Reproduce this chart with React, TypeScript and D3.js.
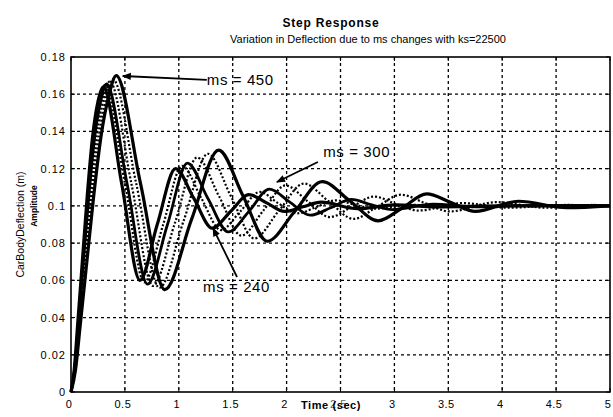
import React from "react";
import * as d3 from "d3";

// Step responses of car body deflection for several sprung masses (ks = 22500)
const timeTicks = [0, 0.5, 1, 1.5, 2, 2.5, 3, 3.5, 4, 4.5, 5];
const timeTickLabels = ["0", "0.5", "1", "1.5", "2", "2.5", "3", "3.5", "4", "4.5", "5"];
const ampTicks = [0, 0.02, 0.04, 0.06, 0.08, 0.1, 0.12, 0.14, 0.16, 0.18];
const ampTickLabels = ["0", "0.02", "0.04", "0.06", "0.08", "0.1", "0.12", "0.14", "0.16", "0.18"];

const ms240: [number, number][] = [
  [0, 0], [0.03, 0.012], [0.06, 0.035], [0.1, 0.066], [0.15, 0.105], [0.2, 0.137], [0.25, 0.156],
  [0.3, 0.164], [0.47, 0.112], [0.64, 0.06], [0.8, 0.09], [0.97, 0.12], [1.14, 0.104], [1.31, 0.088],
  [1.48, 0.097], [1.65, 0.106], [1.82, 0.1015], [1.98, 0.097], [2.15, 0.0995], [2.32, 0.102],
  [2.66, 0.0985], [3.0, 0.1005], [3.4, 0.0995], [4.0, 0.1], [5.0, 0.1],
];
const ms270: [number, number][] = [
  [0, 0], [0.032, 0.012], [0.063, 0.035], [0.105, 0.066], [0.158, 0.105], [0.21, 0.137], [0.263, 0.156],
  [0.315, 0.165], [0.5, 0.112], [0.68, 0.059], [0.855, 0.09], [1.03, 0.1215], [1.21, 0.104], [1.39, 0.087],
  [1.57, 0.097], [1.75, 0.1075], [1.92, 0.1015], [2.1, 0.096], [2.28, 0.0995], [2.46, 0.103],
  [2.64, 0.1005], [2.82, 0.0985], [3.18, 0.1005], [3.6, 0.0997], [4.2, 0.1], [5.0, 0.1],
];
const ms300: [number, number][] = [
  [0, 0], [0.033, 0.012], [0.066, 0.035], [0.11, 0.066], [0.165, 0.105], [0.22, 0.137], [0.275, 0.156],
  [0.33, 0.1655], [0.52, 0.112], [0.71, 0.058], [0.895, 0.09], [1.08, 0.123], [1.27, 0.104], [1.46, 0.086],
  [1.65, 0.097], [1.84, 0.109], [2.03, 0.102], [2.22, 0.095], [2.41, 0.099], [2.6, 0.1035],
  [2.79, 0.1005], [2.98, 0.098], [3.36, 0.101], [3.75, 0.0995], [4.3, 0.1003], [5.0, 0.1],
];
const ms350: [number, number][] = [
  [0, 0], [0.036, 0.012], [0.072, 0.035], [0.12, 0.066], [0.18, 0.105], [0.24, 0.138], [0.3, 0.157],
  [0.36, 0.167], [0.56, 0.112], [0.76, 0.057], [0.965, 0.091], [1.17, 0.126], [1.375, 0.105], [1.58, 0.084],
  [1.785, 0.0975], [1.99, 0.111], [2.195, 0.1025], [2.4, 0.094], [2.605, 0.0995], [2.81, 0.105],
  [3.015, 0.101], [3.22, 0.0975], [3.63, 0.1015], [4.04, 0.099], [4.6, 0.1005], [5.0, 0.1],
];
const ms400: [number, number][] = [
  [0, 0], [0.039, 0.012], [0.078, 0.035], [0.13, 0.066], [0.195, 0.105], [0.26, 0.138], [0.325, 0.158],
  [0.39, 0.168], [0.605, 0.112], [0.82, 0.056], [1.045, 0.092], [1.27, 0.128], [1.485, 0.105], [1.7, 0.0825],
  [1.93, 0.0975], [2.16, 0.112], [2.39, 0.1025], [2.62, 0.093], [2.84, 0.0995], [3.06, 0.106],
  [3.285, 0.1015], [3.51, 0.097], [3.95, 0.102], [4.4, 0.099], [4.85, 0.1005], [5.0, 0.1],
];
const ms450: [number, number][] = [
  [0, 0], [0.042, 0.012], [0.084, 0.035], [0.14, 0.066], [0.21, 0.105], [0.28, 0.138], [0.35, 0.159],
  [0.42, 0.17], [0.645, 0.112], [0.87, 0.055], [1.12, 0.093], [1.37, 0.13], [1.595, 0.1055], [1.82, 0.081],
  [2.075, 0.097], [2.33, 0.113], [2.59, 0.1025], [2.85, 0.092], [3.075, 0.099], [3.3, 0.1065],
  [3.525, 0.1018], [3.75, 0.097], [4.15, 0.1025], [4.6, 0.099], [5.0, 0.1],
];

const seriesList = [
  { name: "ms240", points: ms240, width: 3.2, dash: "" },
  { name: "ms270", points: ms270, width: 2.2, dash: "2 2" },
  { name: "ms300", points: ms300, width: 2.8, dash: "" },
  { name: "ms350", points: ms350, width: 2.2, dash: "2 2" },
  { name: "ms400", points: ms400, width: 2.2, dash: "2 2" },
  { name: "ms450", points: ms450, width: 3.2, dash: "" },
];

// Annotation callouts: label, label anchor (data), arrow tail and tip (data)
const callouts = [
  { text: "ms = 450", at: [1.26, 0.165], tail: [1.26, 0.1677], tip: [0.48, 0.1698] },
  { text: "ms = 300", at: [2.34, 0.1263], tail: [2.29, 0.1236], tip: [1.91, 0.1128] },
  { text: "ms = 240", at: [1.225, 0.0537], tail: [1.54, 0.0618], tip: [1.317, 0.0881] },
];

const W = 613;
const H = 417;
const M = { left: 71, right: 610, top: 57, bottom: 392 };
const FONT = "'Liberation Sans', Arial, sans-serif";

export default function App() {
  const x = d3.scaleLinear().domain([0, 5]).range([M.left, M.right]);
  const y = d3.scaleLinear().domain([0, 0.18]).range([M.bottom, M.top]);
  const line = d3
    .line<[number, number]>()
    .x((d) => x(d[0]))
    .y((d) => y(d[1]))
    .curve(d3.curveMonotoneX);

  return (
    <svg width={W} height={H} style={{ position: "absolute", left: 0, top: 0, background: "#fff" }}>
      <defs>
        <marker id="head" viewBox="0 0 10 10" refX="9" refY="5" markerWidth="10" markerHeight="9" orient="auto" markerUnits="userSpaceOnUse">
          <path d="M0,1 L10,5 L0,9 z" fill="#000" />
        </marker>
      </defs>
      <rect x={0} y={0} width={W} height={H} fill="#fff" />

      {/* grid */}
      {timeTicks.slice(1, -1).map((t) => (
        <line key={"gx" + t} x1={x(t)} x2={x(t)} y1={M.top} y2={M.bottom} stroke="#000" strokeWidth={1.3} strokeDasharray="3 3" />
      ))}
      {ampTicks.slice(1, -1).map((v) => (
        <line key={"gy" + v} x1={M.left} x2={M.right} y1={y(v)} y2={y(v)} stroke="#000" strokeWidth={1.3} strokeDasharray="3 3" />
      ))}

      {/* curves */}
      {seriesList.map((s) => (
        <path key={s.name} d={line(s.points) || ""} fill="none" stroke="#000" strokeWidth={s.width} strokeDasharray={s.dash || undefined} strokeLinejoin="round" />
      ))}

      {/* frame and ticks */}
      <rect x={M.left} y={M.top} width={M.right - M.left} height={M.bottom - M.top} fill="none" stroke="#000" strokeWidth={1.6} />
      {timeTicks.map((t) => (
        <g key={"tx" + t}>
          <line x1={x(t)} x2={x(t)} y1={M.bottom} y2={M.bottom - 4} stroke="#000" />
          <line x1={x(t)} x2={x(t)} y1={M.top} y2={M.top + 4} stroke="#000" />
        </g>
      ))}
      {ampTicks.map((v) => (
        <g key={"ty" + v}>
          <line x1={M.left} x2={M.left + 4} y1={y(v)} y2={y(v)} stroke="#000" />
          <line x1={M.right} x2={M.right - 4} y1={y(v)} y2={y(v)} stroke="#000" />
        </g>
      ))}

      {/* tick labels */}
      {timeTicks.map((t, i) => (
        <text key={"lx" + t} x={x(t) - 2} y={M.bottom + 16} textAnchor="middle" fontFamily={FONT} fontSize={11} letterSpacing={0.5}
          fill={t === 2.5 ? "#666" : "#000"}>
          {timeTickLabels[i]}
        </text>
      ))}
      {ampTicks.map((v, i) => (
        <text key={"ly" + v} x={M.left - 5} y={y(v) + 4} textAnchor="end" fontFamily={FONT} fontSize={11} letterSpacing={1} fill="#000">
          {ampTickLabels[i]}
        </text>
      ))}

      {/* titles and axis labels */}
      <text x={331} y={27} textAnchor="middle" fontFamily={FONT} fontSize={12} fontWeight="bold" letterSpacing={0.8} fill="#000">
        Step Response
      </text>
      <text x={368} y={43} textAnchor="middle" fontFamily={FONT} fontSize={11} fill="#000">
        Variation in Deflection due to ms changes with ks=22500
      </text>
      <text x={331} y={M.bottom + 17} textAnchor="middle" fontFamily={FONT} fontSize={11} fontWeight="bold" letterSpacing={0.6} fill="#000">
        Time (sec)
      </text>
      <text transform={`translate(24,${(M.top + M.bottom) / 2}) rotate(-90)`} textAnchor="middle" fontFamily={FONT} fontSize={10.5} fill="#000">
        CarBodyDeflection (m)
      </text>
      <text transform={`translate(37,206) rotate(-90)`} textAnchor="middle" fontFamily={FONT} fontSize={8.5} fontWeight="bold" fill="#000">
        Amplitude
      </text>

      {/* callouts */}
      {callouts.map((c) => (
        <g key={c.text}>
          <line x1={x(c.tail[0])} y1={y(c.tail[1])} x2={x(c.tip[0])} y2={y(c.tip[1])} stroke="#000" strokeWidth={1.8} markerEnd="url(#head)" />
          <text x={x(c.at[0])} y={y(c.at[1])} fontFamily={FONT} fontSize={15} letterSpacing={0.6} fill="#000">
            {c.text}
          </text>
        </g>
      ))}
    </svg>
  );
}
